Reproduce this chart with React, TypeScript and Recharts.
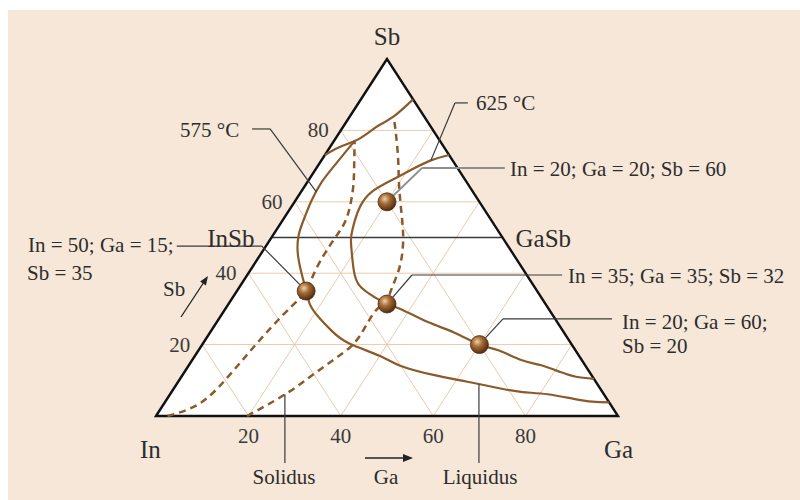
import { ComposedChart, XAxis, YAxis, Area, Line, Scatter, ReferenceLine } from 'recharts';

// composition as [Ga, Sb] in at.%, In is the remainder
type Comp = [number, number];

const W = 800;
const H = 500;
const MARGIN = { top: 59, right: 182, bottom: 54, left: 156 };
const AXIS_H = 30;
// pixels per plot unit, used to stop leader lines at the edge of a ball
const KX = (W - MARGIN.left - MARGIN.right) / 100;
const KY = (H - MARGIN.top - MARGIN.bottom - AXIS_H) / 100;
const BALL_R = 9;

const BROWN = '#8b5a2b';
const GRID = '#e8cbae';
const INK = '#2d2d2d';
const FONT = '"Liberation Serif", "Times New Roman", serif';

const GRID_STEPS = [20, 40, 60, 80];
const SIDE_TICKS = [20, 40, 60, 80];
const BASE_TICKS = [20, 40, 60, 80];

const TRIANGLE: Comp[] = [[0, 0], [0, 100], [100, 0]];
const TIE_LINE: Comp[] = [[0, 50], [50, 50]]; // InSb – GaSb

// 575 °C isotherm: upper branch across the Sb corner
const ISO_575_TOP: Comp[] = [
  [0, 73.1], [2.0, 75.3], [4.5, 77.0], [6.3, 79.4], [7.6, 81.5], [9.5, 83.9], [11.3, 88.7],
];
// 575 °C isotherm: main branch down to the Ga side
const ISO_575: Comp[] = [
  [4.5, 77.0], [4.1, 74.4], [3.5, 69.7], [3.1, 65.3], [3.5, 60.3], [4.3, 55.9], [5.5, 50.8],
  [8.0, 45.4], [11.5, 40.0], [15, 35], [17.5, 31.5], [21.0, 28.0], [26.3, 23.7], [31.7, 20.3],
  [40.1, 16.8], [45.8, 14.1], [54.3, 11.5], [62.6, 9.6], [70.7, 7.7], [76.0, 6.7], [81.7, 6.1],
  [88.0, 4.8], [92.5, 4.0], [96.2, 3.8],
];
// 625 °C isotherm
const ISO_625: Comp[] = [
  [26.9, 73.1], [23.7, 71.6], [20.9, 69.1], [17.8, 65.9], [15.3, 62.8], [14.8, 59.0], [15.7, 54.6],
  [17.1, 50.3], [18.9, 46.8], [22.6, 40.5], [25.5, 36.8], [29.1, 34.2], [34.3, 31.4], [37.9, 30.0],
  [45.7, 26.3], [52.8, 23.4], [60, 20], [64.9, 18.4], [71.2, 15.7], [76.3, 14.2], [81.4, 12.3],
  [85.4, 11.0], [89.6, 10.4],
];
// solidus, x = 0.7
const SOLIDUS_07: Comp[] = [
  [2.5, 0], [7.7, 3.5], [10.0, 10.4], [11.2, 17.6], [12.5, 24.7], [14.0, 30.8], [15, 35],
  [14.3, 39.5], [13.8, 44.9], [13.8, 49.5], [13.8, 53.8], [12.7, 58.5], [10.5, 64.4], [7.6, 70.6],
  [4.5, 77.0],
];
// solidus, x = 0.8
const SOLIDUS_08: Comp[] = [
  [19.7, 0], [21.9, 2.4], [25.5, 6.9], [28.6, 12.3], [31.6, 17.6], [32.9, 22.4], [32.8, 29.5],
  [34.3, 31.4], [33.5, 34.2], [32.2, 40.5], [30.0, 46.8], [27.4, 52.1], [24.1, 57.9], [20.1, 65.0],
  [16.3, 72.2], [12.2, 79.4], [9.5, 83.9],
];

const ALLOYS = [
  { In: 20, Ga: 20, Sb: 60 },
  { In: 35, Ga: 35, Sb: 32 },
  { In: 50, Ga: 15, Sb: 35 },
  { In: 20, Ga: 60, Sb: 20 },
];

// leader lines in plot units (x along the base, y = Sb); `to` ends on an alloy ball
const LEADERS: { pts: [number, number][]; to?: number; color?: string; width?: number }[] = [
  { pts: [[20.8, 80.4], [24.7, 80.4], [34.7, 62.8]] },
  { pts: [[67.5, 87.7], [64.7, 87.7], [59.5, 71.6]] },
  { pts: [[75.5, 69.5], [57.6, 69.5]], to: 0, color: '#8e8e8e', width: 2 },
  { pts: [[87.9, 39.5], [55.4, 39.5]], to: 1 },
  { pts: [[4.5, 47.6], [22.9, 47.6]], to: 2 },
  { pts: [[98.7, 27.2], [75.1, 27.2]], to: 3 },
  { pts: [[27.9, 6.1], [27.9, -13.2]] },
  { pts: [[69.9, 8.9], [69.9, -13.2]] },
];

const LABELS: { text: string; x: number; y: number; size?: number; anchor?: 'start' | 'middle' | 'end' }[] = [
  { text: 'Sb', x: 387, y: 45, size: 25, anchor: 'middle' },
  { text: '575 °C', x: 180, y: 137 },
  { text: '625 °C', x: 476, y: 110 },
  { text: 'In = 20; Ga = 20; Sb = 60', x: 510, y: 176 },
  { text: 'In = 50; Ga = 15;', x: 28, y: 252 },
  { text: 'Sb = 35', x: 27, y: 280 },
  { text: 'Sb', x: 163, y: 296 },
  { text: 'In = 35; Ga = 35; Sb = 32', x: 568, y: 283 },
  { text: 'In = 20; Ga = 60;', x: 622, y: 329 },
  { text: 'Sb = 20', x: 622, y: 353 },
  { text: '0.7', x: 235, y: 380 },
  { text: '0.8', x: 325, y: 380 },
  { text: 'In', x: 140, y: 458, size: 25 },
  { text: 'Ga', x: 604, y: 458, size: 25 },
  { text: 'Solidus', x: 284, y: 484, anchor: 'middle' },
  { text: 'Ga', x: 386, y: 484, anchor: 'middle' },
  { text: 'Liquidus', x: 480, y: 484, anchor: 'middle' },
];

const toXY = ([ga, sb]: Comp) => ({ x: ga + sb / 2, y: sb });

const alloyXY = ALLOYS.map((a) => {
  const sum = a.In + a.Ga + a.Sb;
  return toXY([(a.Ga * 100) / sum, (a.Sb * 100) / sum]);
});

const gridLines: Comp[][] = GRID_STEPS.flatMap((k) => [
  [[0, k], [100 - k, k]] as Comp[], // Sb = k
  [[k, 0], [k, 100 - k]] as Comp[], // Ga = k
  [[100 - k, 0], [0, 100 - k]] as Comp[], // In = k
]);

function path(key: string, pts: Comp[], stroke: string, width: number, opts: any = {}) {
  return (
    <Line
      key={key}
      data={pts.map(toXY)}
      dataKey="y"
      type={opts.type ?? 'linear'}
      stroke={stroke}
      strokeWidth={width}
      strokeDasharray={opts.dash}
      dot={false}
      activeDot={false}
      isAnimationActive={false}
      legendType="none"
    />
  );
}

const Ball = (p: any) => (
  <circle cx={p.cx} cy={p.cy} r={BALL_R} fill="url(#ballFill)" stroke="#4a280c" strokeWidth={0.8} />
);

const SideTick = (p: any) => (
  <text x={p.cx - 12} y={p.cy + 7} textAnchor="end" fontSize={21} fill="#3a3a3a" fontFamily={FONT}>
    {p.payload.v}
  </text>
);

const CompoundLabel = (p: any) => (
  <text
    x={p.cx + p.payload.dx}
    y={p.cy + 9}
    textAnchor={p.payload.dx < 0 ? 'end' : 'start'}
    fontSize={25}
    fill={INK}
    fontFamily={FONT}
  >
    {p.payload.label}
  </text>
);

export default function App() {
  const leaderLines = LEADERS.flatMap((ld, i) => {
    const pts = ld.pts.map(([x, y]) => ({ x, y }));
    if (ld.to != null) {
      const a = alloyXY[ld.to];
      const prev = pts[pts.length - 1];
      const len = Math.hypot((a.x - prev.x) * KX, (a.y - prev.y) * KY);
      const f = (len - BALL_R) / len;
      pts.push({ x: prev.x + (a.x - prev.x) * f, y: prev.y + (a.y - prev.y) * f });
    }
    return pts.slice(1).map((p, j) => (
      <ReferenceLine
        key={`ld${i}-${j}`}
        segment={[pts[j], p]}
        stroke={ld.color ?? '#3a3a3a'}
        strokeWidth={ld.width ?? 1.2}
        ifOverflow="visible"
      />
    ));
  });

  return (
    <div style={{ position: 'absolute', left: 0, top: 0, width: W, height: H, background: '#fff' }}>
      <div style={{ position: 'absolute', left: 8, top: 10, right: 0, bottom: 0, background: '#f6e7d8' }} />
      <div style={{ position: 'absolute', left: 0, top: 0 }}>
        <ComposedChart width={W} height={H} margin={MARGIN}>
          <defs>
            <radialGradient id="ballFill" cx="38%" cy="34%" r="70%">
              <stop offset="0%" stopColor="#efcfa8" />
              <stop offset="40%" stopColor="#a56c35" />
              <stop offset="100%" stopColor="#4a270b" />
            </radialGradient>
          </defs>
          <XAxis
            type="number"
            dataKey="x"
            domain={[0, 100]}
            ticks={BASE_TICKS}
            interval={0}
            axisLine={false}
            tickLine={false}
            tickMargin={6}
            height={AXIS_H}
            tick={{ fontSize: 21, fill: '#3a3a3a', fontFamily: FONT }}
          />
          <YAxis type="number" dataKey="y" domain={[0, 100]} hide />

          <Area
            data={TRIANGLE.map(toXY)}
            dataKey="y"
            type="linear"
            fill="#ffffff"
            fillOpacity={1}
            stroke="none"
            isAnimationActive={false}
          />
          {gridLines.map((g, i) => path(`g${i}`, g, GRID, 1))}
          {path('tie', TIE_LINE, '#3a3a3a', 1.3)}
          {path('edge', [...TRIANGLE, TRIANGLE[0], TRIANGLE[1]], '#111', 2.4)}

          {path('s07', SOLIDUS_07, BROWN, 2.5, { type: 'natural', dash: '7 5' })}
          {path('s08', SOLIDUS_08, BROWN, 2.5, { type: 'natural', dash: '7 5' })}
          {path('i575t', ISO_575_TOP, BROWN, 2.2, { type: 'natural' })}
          {path('i575', ISO_575, BROWN, 2.2, { type: 'natural' })}
          {path('i625', ISO_625, BROWN, 2.2, { type: 'natural' })}

          {leaderLines}

          <Scatter data={alloyXY} shape={Ball} isAnimationActive={false} legendType="none" />
          <Scatter
            data={SIDE_TICKS.map((v) => ({ ...toXY([0, v]), v }))}
            shape={SideTick}
            isAnimationActive={false}
            legendType="none"
          />
          <Scatter
            data={[
              { ...toXY([0, 50]), label: 'InSb', dx: -17 },
              { ...toXY([50, 50]), label: 'GaSb', dx: 13 },
            ]}
            shape={CompoundLabel}
            isAnimationActive={false}
            legendType="none"
          />

          {LABELS.map((l, i) => (
            <text
              key={`t${i}`}
              x={l.x}
              y={l.y}
              textAnchor={l.anchor ?? 'start'}
              fontSize={l.size ?? 21}
              fill={INK}
              fontFamily={FONT}
            >
              {l.text}
            </text>
          ))}

          {/* direction arrows for the Sb and Ga scales */}
          <line x1={181} y1={317} x2={204} y2={282} stroke="#222" strokeWidth={1.3} />
          <polygon points="208,276 205.9,285.4 200.1,281.6" fill="#222" />
          <line x1={365} y1={458} x2={405} y2={458} stroke="#222" strokeWidth={1.3} />
          <polygon points="413,458 403,454 403,462" fill="#222" />
        </ComposedChart>
      </div>
    </div>
  );
}
